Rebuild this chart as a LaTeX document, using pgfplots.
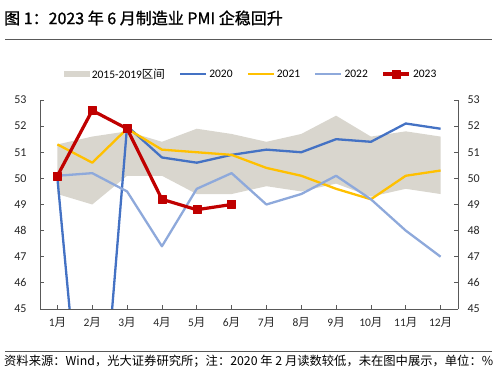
\documentclass[border=0pt]{standalone}
\usepackage{fontspec}
\setmainfont{Carlito}
\newfontfamily\cjk{Noto Sans CJK SC}
\newfontfamily\cjkt{Noto Sans CJK SC}[FakeBold=1.2]
\usepackage{pgfplots}
\pgfplotsset{compat=1.18}
\definecolor{areagray}{HTML}{D9D6CE}
\definecolor{c2020}{HTML}{4472C4}
\definecolor{c2021}{HTML}{FFC000}
\definecolor{c2022}{HTML}{8EA9DB}
\definecolor{c2023}{HTML}{C00000}
\definecolor{axgray}{HTML}{595959}
\begin{document}
\begin{tikzpicture}[x=1pt,y=1pt]
\useasboundingbox (0,0) rectangle (500,370);
\node[anchor=west,inner sep=0pt] at (4,352) {\cjkt\fontsize{16pt}{18pt}\selectfont 图 1：2023 年 6 月制造业 PMI 企稳回升};
\draw[axgray,line width=0.8pt] (5,331) -- (492,331);
\draw[axgray,line width=0.8pt] (5,19) -- (492,19);
\node[anchor=west,inner sep=0pt] at (4,9) {\fontsize{12.3pt}{14pt}\selectfont \cjk{资料来源：}Wind\cjk{，光大证券研究所；注：}2020 \cjk{年} 2 \cjk{月读数较低，未在图中展示，单位：}\%};
\begin{axis}[
  at={(40pt,61pt)}, anchor=south west,
  width=418pt, height=209pt, scale only axis,
  xmin=0.5, xmax=12.5, ymin=45, ymax=53,
  axis x line*=bottom, axis y line*=left,
  axis line style={axgray,line width=0.8pt},
  tick style={axgray,line width=0.8pt},
  tick align=inside, major tick length=4pt,
  xtick={1,...,12},
  xticklabels={1\cjk{月},2\cjk{月},3\cjk{月},4\cjk{月},5\cjk{月},6\cjk{月},7\cjk{月},8\cjk{月},9\cjk{月},10\cjk{月},11\cjk{月},12\cjk{月}},
  ytick={45,...,53},
  /pgf/number format/assume math mode=true,
  tick label style={font=\fontsize{11.5pt}{13pt}\selectfont, text=black!85},
  yticklabel style={xshift=-10pt, font=\fontsize{12pt}{14pt}\selectfont},
  xticklabel style={yshift=-5pt},
  legend columns=-1,
  legend style={at={(0.505,1.124)}, anchor=center, draw=none, fill=none,
    font=\fontsize{11.5pt}{13pt}\selectfont,
    /tikz/every even column/.append style={column sep=12pt}},
  legend image code/.code={\draw[mark repeat=2,mark phase=2,#1] plot coordinates {(0pt,0pt) (13pt,0pt) (26pt,0pt)};},
]
\addplot[fill=areagray, draw=none, area legend,
  legend image code/.code={\fill[areagray] (0pt,-3pt) rectangle (26pt,3pt);}]
  coordinates {(1,51.3) (2,51.6) (3,51.8) (4,51.4) (5,51.9) (6,51.7) (7,51.4) (8,51.7) (9,52.4) (10,51.6) (11,51.8) (12,51.6)
               (12,49.4) (11,49.6) (10,49.3) (9,49.8) (8,49.5) (7,49.7) (6,49.4) (5,49.4) (4,50.1) (3,50.1) (2,49.0) (1,49.4)} -- cycle;
\addlegendentry{2015-2019\cjk{区间}}
\addplot[c2020, line width=2.3pt, line join=round] coordinates {(1,50.0) (2,35.7) (3,52.0) (4,50.8) (5,50.6) (6,50.9) (7,51.1) (8,51.0) (9,51.5) (10,51.4) (11,52.1) (12,51.9)};
\addlegendentry{2020}
\addplot[c2021, line width=2.3pt, line join=round] coordinates {(1,51.3) (2,50.6) (3,51.9) (4,51.1) (5,51.0) (6,50.9) (7,50.4) (8,50.1) (9,49.6) (10,49.2) (11,50.1) (12,50.3)};
\addlegendentry{2021}
\addplot[c2022, line width=2.3pt, line join=round] coordinates {(1,50.1) (2,50.2) (3,49.5) (4,47.4) (5,49.6) (6,50.2) (7,49.0) (8,49.4) (9,50.1) (10,49.2) (11,48.0) (12,47.0)};
\addlegendentry{2022}
\addplot[c2023, line width=3.2pt, line join=round, mark=square*, mark size=4pt, mark options={solid, line width=0.5pt}] coordinates {(1,50.1) (2,52.6) (3,51.9) (4,49.2) (5,48.8) (6,49.0)};
\addlegendentry{2023}
\end{axis}
\begin{axis}[
  at={(40pt,61pt)}, anchor=south west,
  width=418pt, height=209pt, scale only axis,
  xmin=0.5, xmax=12.5, ymin=45, ymax=53,
  axis x line=none, axis y line*=right,
  axis line style={axgray,line width=0.8pt},
  tick style={axgray,line width=0.8pt},
  tick align=inside, major tick length=4pt,
  ytick={45,...,53},
  /pgf/number format/assume math mode=true,
  tick label style={font=\fontsize{12pt}{14pt}\selectfont, text=black!85},
  yticklabel style={xshift=6pt},
]
\end{axis}
\end{tikzpicture}
\end{document}
